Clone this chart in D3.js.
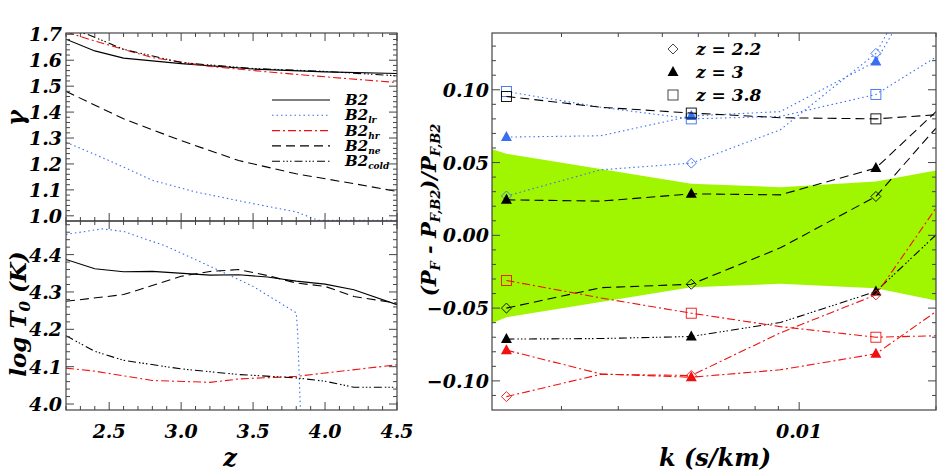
<!DOCTYPE html>
<html><head><meta charset="utf-8">
<script src="https://cdn.jsdelivr.net/npm/d3@7"></script>
<style>
body{margin:0;background:#fff}
text{font-family:"DejaVu Serif","Liberation Serif",serif;font-weight:bold;font-style:italic;fill:#000}
</style></head><body>
<svg id="c" width="945" height="472"></svg>
<script>
// left panels: z vs gamma and log T0
var gammaZ = {
  b2:   [2.2, 2.4, 2.6, 3.0, 3.5, 4.0, 4.5],
  lr:   [2.2, 2.5, 2.8, 3.1, 3.5, 3.8, 3.95, 4.5],
  hr:   [2.2, 2.4, 2.8, 3.2, 3.6, 4.0, 4.5],
  ne:   [2.2, 2.6, 3.0, 3.4, 3.8, 4.2, 4.5],
  cold: [2.2, 2.35, 2.6, 3.0, 3.5, 4.0, 4.5]
};
var gammaVal = {
  b2:   [1.681, 1.636, 1.608, 1.587, 1.566, 1.555, 1.549],
  lr:   [1.284, 1.213, 1.137, 1.092, 1.047, 1.015, 0.983, 0.983],
  hr:   [1.709, 1.674, 1.610, 1.576, 1.555, 1.536, 1.514],
  ne:   [1.480, 1.374, 1.290, 1.213, 1.162, 1.124, 1.094],
  cold: [1.72, 1.70, 1.642, 1.591, 1.568, 1.557, 1.540]
};
var tempZ = {
  b2:   [2.2, 2.4, 2.6, 2.8, 3.2, 3.4, 3.6, 3.8, 4.0, 4.2, 4.5],
  lr:   [2.2, 2.45, 2.6, 2.9, 3.2, 3.5, 3.8, 3.81, 3.83],
  hr:   [2.2, 2.4, 2.8, 3.2, 3.4, 3.8, 4.0, 4.5],
  ne:   [2.2, 2.6, 3.0, 3.2, 3.4, 3.6, 3.8, 4.0, 4.2, 4.5],
  cold: [2.2, 2.4, 2.6, 3.0, 3.4, 3.8, 4.0, 4.2, 4.5]
};
var tempVal = {
  b2:   [4.387, 4.362, 4.354, 4.355, 4.345, 4.346, 4.340, 4.329, 4.321, 4.306, 4.266],
  lr:   [4.454, 4.469, 4.462, 4.422, 4.369, 4.315, 4.244, 4.19, 3.97],
  hr:   [4.096, 4.088, 4.063, 4.058, 4.067, 4.074, 4.083, 4.105],
  ne:   [4.275, 4.293, 4.342, 4.355, 4.36, 4.344, 4.324, 4.315, 4.288, 4.27],
  cold: [4.183, 4.141, 4.117, 4.094, 4.079, 4.07, 4.061, 4.045, 4.045]
};
var runs = ["b2", "lr", "hr", "ne", "cold"];
var runLabel = {b2: "", lr: "lr", hr: "hr", ne: "ne", cold: "cold"};
var runColor = {b2: "#000", lr: "#3a6ff0", hr: "#f01010", ne: "#000", cold: "#000"};
var runDash = {b2: null, lr: "1.5,3", hr: "8,3,2,3", ne: "9,5", cold: "8,3,1.5,2,1.5,2,1.5,3"};

// right panel: relative flux power difference
var kVals = [0.00227, 0.00366, 0.00579, 0.00909, 0.01475, 0.02];
var markIdx = [0, 2, 4];
var fluxSeries = [
  {run: "lr", z: "2.2", v: [0.027, 0.045, 0.0496, 0.0725, 0.125, 0.20]},
  {run: "lr", z: "3", v: [0.0675, 0.0684, 0.082, 0.085, 0.1195, 0.19]},
  {run: "lr", z: "3.8", v: [0.0988, 0.088, 0.080, 0.0817, 0.0968, 0.1225]},
  {run: "ne", z: "3.8", v: [0.0954, 0.088, 0.084, 0.0808, 0.080, 0.0828]},
  {run: "ne", z: "3", v: [0.0244, 0.0235, 0.0285, 0.0278, 0.0462, 0.085]},
  {run: "ne", z: "2.2", v: [-0.050, -0.036, -0.0336, -0.0086, 0.0267, 0.0737]},
  {run: "cold", z: "3", v: [-0.0713, -0.0709, -0.0695, -0.0599, -0.0386, 0.0003]},
  {run: "hr", z: "3.8", v: [-0.031, -0.043, -0.0535, -0.0627, -0.070, -0.069]},
  {run: "hr", z: "3", v: [-0.0789, -0.0952, -0.0975, -0.0924, -0.0814, -0.0524]},
  {run: "hr", z: "2.2", v: [-0.1108, -0.0955, -0.0963, -0.067, -0.0409, 0.0187]}
];
var bandK = [0.00211, 0.00227, 0.00579, 0.00909, 0.01475, 0.02];
var bandHi = [0.0592, 0.056, 0.0354, 0.0331, 0.037, 0.0445];
var bandLo = [-0.0604, -0.0562, -0.0356, -0.0333, -0.0363, -0.0448];
var zLegend = ["2.2", "3", "3.8"];

var svg = d3.select("#c");

var x = d3.scaleLinear().domain([2.2, 4.5]).range([66, 397]);
var yG = d3.scaleLinear().domain([0.98, 1.705]).range([221, 33]);
var yT = d3.scaleLinear().domain([3.984, 4.49]).range([410, 221]);

function frame(g, x0, x1, y0, y1) {
  g.append("rect").attr("x", x0).attr("y", y0).attr("width", x1 - x0).attr("height", y1 - y0)
    .attr("fill", "none").attr("stroke", "#444").attr("stroke-width", 1.2);
}
function yTicks(y, x0, x1, step, minor, lo, hi, labelFmt, labelX) {
  var g = svg.append("g");
  d3.range(lo, hi + 1e-9, minor).forEach(function(v) {
    var major = Math.abs(v / step - Math.round(v / step)) < 1e-6;
    var len = major ? 8 : 4, py = y(v);
    g.append("line").attr("x1", x0).attr("x2", x0 + len).attr("y1", py).attr("y2", py).attr("stroke", "#444");
    g.append("line").attr("x1", x1).attr("x2", x1 - len).attr("y1", py).attr("y2", py).attr("stroke", "#444");
    if (major && labelFmt) g.append("text").attr("x", labelX).attr("y", py + 7).attr("text-anchor", "end")
      .attr("font-size", 19).text(labelFmt(v));
  });
}

// left panels
function drawLeft(y, zs, vals, y0, y1, clipId) {
  svg.append("clipPath").attr("id", clipId).append("rect")
    .attr("x", 66).attr("y", y0).attr("width", 331).attr("height", y1 - y0);
  var g = svg.append("g").attr("clip-path", "url(#" + clipId + ")");
  runs.forEach(function(r) {
    var pts = zs[r].map(function(z, i) { return [z, vals[r][i]]; });
    g.append("path").datum(pts)
      .attr("d", d3.line().x(function(d) { return x(d[0]); }).y(function(d) { return y(d[1]); }))
      .attr("fill", "none").attr("stroke", runColor[r]).attr("stroke-width", 1.1)
      .attr("stroke-dasharray", runDash[r]);
  });
}
drawLeft(yG, gammaZ, gammaVal, 33, 221, "cg");
drawLeft(yT, tempZ, tempVal, 221, 410, "ct");
frame(svg, 66, 397, 33, 221);
frame(svg, 66, 397, 221, 410);
yTicks(yG, 66, 397, 0.1, 0.02, 1.0, 1.7, d3.format(".1f"), 62);
yTicks(yT, 66, 397, 0.1, 0.02, 4.0, 4.48, d3.format(".1f"), 62);
d3.range(2.2, 4.501, 0.1).forEach(function(v) {
  var major = Math.abs(v * 2 - Math.round(v * 2)) < 1e-6, len = major ? 8 : 4, px = x(v);
  [[33, 1], [221, 1], [221, -1], [410, -1]].forEach(function(p) {
    svg.append("line").attr("x1", px).attr("x2", px).attr("y1", p[0]).attr("y2", p[0] + p[1] * len).attr("stroke", "#444");
  });
  if (major) svg.append("text").attr("x", px).attr("y", 438).attr("text-anchor", "middle").attr("font-size", 19).text(d3.format(".1f")(v));
});
svg.append("text").attr("x", 230).attr("y", 466).attr("text-anchor", "middle").attr("font-size", 24).text("z");
svg.append("text").attr("transform", "translate(24,118) rotate(-90)").attr("text-anchor", "middle").attr("font-size", 24).text("γ");
var tl = svg.append("text").attr("transform", "translate(26,314) rotate(-90)").attr("text-anchor", "middle").attr("font-size", 23);
tl.append("tspan").text("log T");
tl.append("tspan").attr("font-size", 15).attr("baseline-shift", "-25%").text("0");
tl.append("tspan").text(" (K)");

// left legend
runs.forEach(function(r, i) {
  var ly = 100 + i * 15.3;
  svg.append("line").attr("x1", 272).attr("x2", 330).attr("y1", ly).attr("y2", ly)
    .attr("stroke", runColor[r]).attr("stroke-width", 1.1).attr("stroke-dasharray", runDash[r]);
  var t = svg.append("text").attr("x", 345).attr("y", ly + 5).attr("font-size", 15);
  t.append("tspan").text("B2");
  if (runLabel[r]) t.append("tspan").attr("font-size", 9).attr("baseline-shift", "-30%").text(runLabel[r]);
});

// right panel
var xk = d3.scaleLog().domain([0.00211, 0.02]).range([492, 936]);
var yP = d3.scaleLinear().domain([-0.120, 0.139]).range([410, 33]);
svg.append("clipPath").attr("id", "cr").append("rect").attr("x", 492).attr("y", 33).attr("width", 444).attr("height", 377);
var gr = svg.append("g").attr("clip-path", "url(#cr)");
gr.append("path").datum(bandK.map(function(k, i) { return [k, bandHi[i], bandLo[i]]; }))
  .attr("d", d3.area().x(function(d) { return xk(d[0]); }).y0(function(d) { return yP(d[2]); }).y1(function(d) { return yP(d[1]); }))
  .attr("fill", "#a0f500");
fluxSeries.forEach(function(s) {
  var col = runColor[s.run];
  var pts = kVals.map(function(k, i) { return [k, s.v[i]]; });
  gr.append("path").datum(pts)
    .attr("d", d3.line().x(function(d) { return xk(d[0]); }).y(function(d) { return yP(d[1]); }))
    .attr("fill", "none").attr("stroke", col).attr("stroke-width", 1.1).attr("stroke-dasharray", runDash[s.run]);
  markIdx.forEach(function(i) { marker(gr, xk(kVals[i]), yP(s.v[i]), s.z, col); });
});
function marker(g, px, py, z, col) {
  if (z === "2.2") g.append("path").attr("d", "M" + px + "," + (py - 5) + "l5,5l-5,5l-5,-5z")
    .attr("fill", "none").attr("stroke", col).attr("stroke-width", 0.9);
  else if (z === "3") g.append("path").attr("d", "M" + px + "," + (py - 6) + "l5.5,10h-11z").attr("fill", col);
  else g.append("rect").attr("x", px - 5).attr("y", py - 5).attr("width", 10).attr("height", 10)
    .attr("fill", "none").attr("stroke", col).attr("stroke-width", 0.9);
}
frame(svg, 492, 936, 33, 410);
yTicks(yP, 492, 936, 0.05, 0.01, -0.11, 0.13, function(v) { return d3.format(".2f")(Math.abs(v) < 1e-9 ? 0 : v); }, 489);
d3.range(3, 10).map(function(m) { return m / 1000; }).concat([0.01, 0.02]).forEach(function(k) {
  var len = k === 0.01 ? 8 : 4, px = xk(k);
  svg.append("line").attr("x1", px).attr("x2", px).attr("y1", 410).attr("y2", 410 - len).attr("stroke", "#444");
  svg.append("line").attr("x1", px).attr("x2", px).attr("y1", 33).attr("y2", 33 + len).attr("stroke", "#444");
});
svg.append("text").attr("x", xk(0.01)).attr("y", 438).attr("text-anchor", "middle").attr("font-size", 19).text("0.01");
svg.append("text").attr("x", 715).attr("y", 466).attr("text-anchor", "middle").attr("font-size", 24).text("k (s/km)");
var yl = svg.append("text").attr("transform", "translate(436,210) rotate(-90)").attr("text-anchor", "middle").attr("font-size", 21);
yl.append("tspan").text("(P");
yl.append("tspan").attr("font-size", 13).attr("baseline-shift", "-30%").text("F");
yl.append("tspan").text(" - P");
yl.append("tspan").attr("font-size", 13).attr("baseline-shift", "-30%").text("F,B2");
yl.append("tspan").text(")/P");
yl.append("tspan").attr("font-size", 13).attr("baseline-shift", "-30%").text("F,B2");

zLegend.forEach(function(z, i) {
  var ly = 49 + i * 23;
  marker(svg, 673, ly, z, z === "3" ? "#000" : "#333");
  svg.append("text").attr("x", 696).attr("y", ly + 6).attr("font-size", 17).text("z = " + z);
});
</script>
</body></html>
